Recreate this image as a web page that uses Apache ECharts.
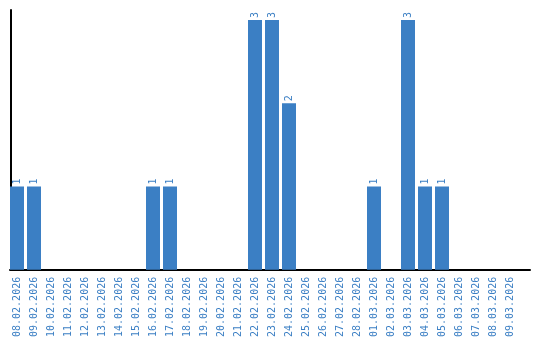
<!DOCTYPE html>
<html><head><meta charset="utf-8">
<script src="https://cdn.jsdelivr.net/npm/echarts@6/dist/echarts.min.js"></script>
<style>html,body{margin:0;padding:0;background:#fff}#c{width:540px;height:340px}</style>
</head><body><div id="c"></div>
<script>
var categories = ["08.02.2026","09.02.2026","10.02.2026","11.02.2026","12.02.2026","13.02.2026","14.02.2026","15.02.2026","16.02.2026","17.02.2026","18.02.2026","19.02.2026","20.02.2026","21.02.2026","22.02.2026","23.02.2026","24.02.2026","25.02.2026","26.02.2026","27.02.2026","28.02.2026","01.03.2026","02.03.2026","03.03.2026","04.03.2026","05.03.2026","06.03.2026","07.03.2026","08.03.2026","09.03.2026"];
var values = [1,1,0,0,0,0,0,0,1,1,0,0,0,0,3,3,2,0,0,0,0,1,0,3,1,1,0,0,0,0];
var blue = '#3b7fc4';
var chart = echarts.init(document.getElementById('c'), null, {renderer:'canvas'});
chart.setOption({
  animation:false,
  grid:[{left:8.5,right:21.5,top:10,bottom:70,containLabel:false},
        {left:10,right:10,top:10,bottom:70,containLabel:false}],
  xAxis:[{type:'category',data:categories,gridIndex:0,
    axisLine:{show:false},
    axisTick:{show:false},
    axisLabel:{rotate:90,interval:0,color:blue,fontFamily:'DejaVu Sans Mono',fontSize:10,margin:7}},
    {type:'value',gridIndex:1,min:0,max:1,axisLine:{show:true,onZero:false,lineStyle:{color:'#000',width:2}},
     axisTick:{show:false},axisLabel:{show:false},splitLine:{show:false}}],
  yAxis:[{type:'value',min:0,max:3.12,gridIndex:0,offset:-2.5,
    axisLine:{show:true,lineStyle:{color:'#000',width:2}},
    axisTick:{show:false},axisLabel:{show:false},splitLine:{show:false}},
    {type:'value',gridIndex:1,show:false}],
  series:[{type:'bar',data:values.map(function(v){return v===0?null:v;}),barWidth:14,
    itemStyle:{color:blue},
    label:{show:true,position:'top',rotate:90,align:'left',verticalAlign:'middle',distance:2,
      color:blue,fontFamily:'DejaVu Sans Mono',fontSize:10}}]
});
</script></body></html>
